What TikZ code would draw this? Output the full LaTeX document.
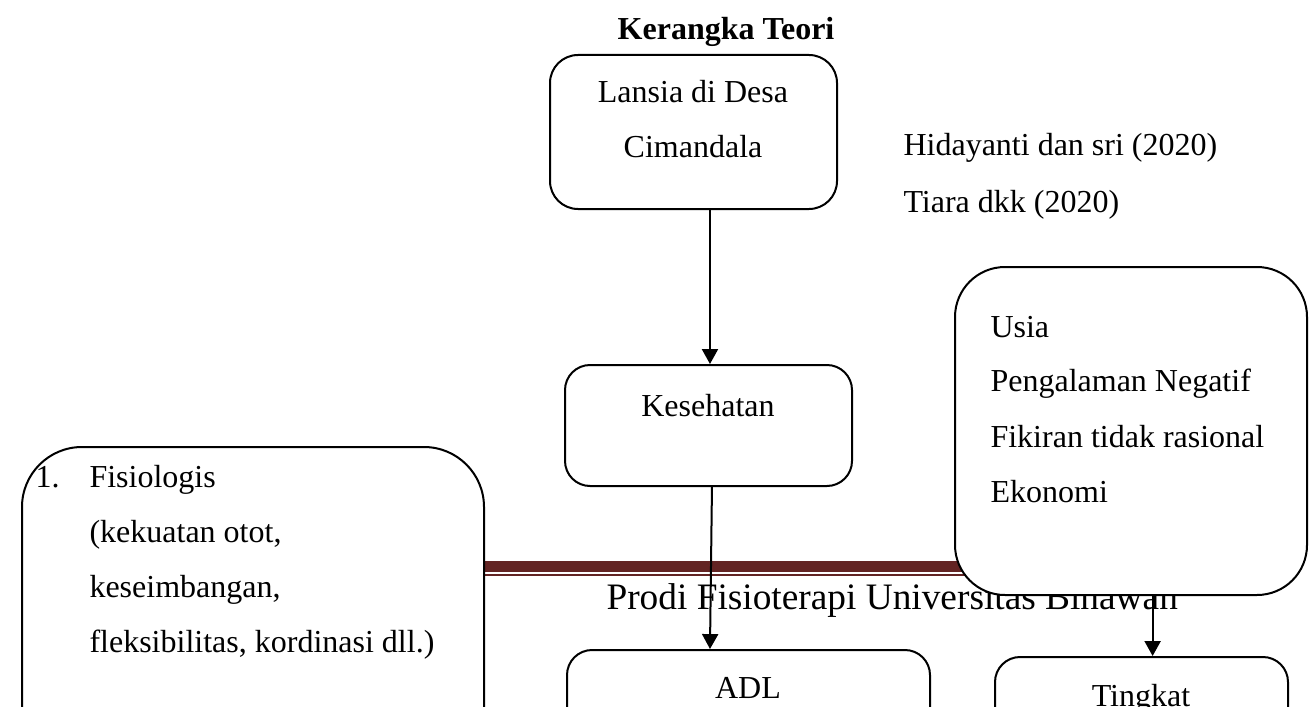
\documentclass[tikz,border=0pt]{standalone}
\usepackage{fontspec}
\setmainfont{Liberation Serif}
\usetikzlibrary{arrows.meta}
\definecolor{hdrred}{HTML}{632423}
\begin{document}
\begin{tikzpicture}[x=0.375pt,y=-0.375pt,
  box/.style={draw,line width=0.75pt,fill=white,rounded corners=#1,inner sep=0pt},
  txt/.style={font=\fontsize{12}{14}\selectfont,inner sep=0pt},
  hdr/.style={font=\fontsize{14}{16}\selectfont,inner sep=0pt},
  arr/.style={line width=0.75pt,-{Triangle[length=5.6pt,width=6pt]}}]
\useasboundingbox (0,0) rectangle (1315,706);
\clip (0,0) rectangle (1315,706);
% page header
\draw[hdrred,line width=4.1pt] (400,566.5) -- (1200,566.5);
\draw[hdrred,line width=0.75pt] (400,575) -- (1200,575);
\node[hdr,anchor=base west] (prodi) at (606,609) {Prodi Fisioterapi Universitas Binawan};
% title
\node[txt,anchor=base,font=\fontsize{12}{14}\selectfont\bfseries] (title) at (726,40) {Kerangka Teori};
% boxes
\node[box=10.5pt,minimum width={287*0.375pt},minimum height={154*0.375pt}] (lansia) at (693.5,132) {};
\node[box=9.4pt,minimum width={287*0.375pt},minimum height={121*0.375pt}] (kes) at (708.5,425.5) {};
\node[box=18.75pt,minimum width={352*0.375pt},minimum height={328*0.375pt}] (faktor) at (1131,431) {};
\node[box=22.5pt,minimum width={462*0.375pt},minimum height={453*0.375pt}] (fisio) at (253,673.5) {};
\node[box=9.4pt,minimum width={363*0.375pt},minimum height={200*0.375pt}] (adl) at (748.5,750) {};
\node[box=9.4pt,minimum width={293*0.375pt},minimum height={200*0.375pt}] (tingkat) at (1141.5,757) {};
% texts
\node[txt,anchor=base] (t1) at (693,103) {Lansia di Desa};
\node[txt,anchor=base] (t2) at (693,158) {Cimandala};
\node[txt,anchor=base west] (r1) at (903,155) {Hidayanti dan sri (2020)};
\node[txt,anchor=base west] (r2) at (903,212) {Tiara dkk (2020)};
\node[txt,anchor=base] (t3) at (708,416) {Kesehatan};
\node[txt,anchor=base west] (f1) at (990,337) {Usia};
\node[txt,anchor=base west] (f2) at (990,391) {Pengalaman Negatif};
\node[txt,anchor=base west] (f3) at (990,447) {Fikiran tidak rasional};
\node[txt,anchor=base west] (f4) at (990,502) {Ekonomi};
\node[txt,anchor=base west] (l0) at (35,487) {1.};
\node[txt,anchor=base west] (l1) at (89,487) {Fisiologis};
\node[txt,anchor=base west] (l2) at (89,542) {(kekuatan otot,};
\node[txt,anchor=base west] (l3) at (89,597) {keseimbangan,};
\node[txt,anchor=base west] (l4) at (89,652) {fleksibilitas, kordinasi dll.)};
\node[txt,anchor=base] (t4) at (748,698) {ADL};
\node[txt,anchor=base] (t5) at (1141,706) {Tingkat};
% arrows
\draw[arr] ([xshift=0.55pt]lansia.south -| kes.north) -- ([xshift=0.55pt]kes.north);
\draw[arr] ([xshift=1.3pt]kes.south) -- ([xshift=0.55pt]adl.north -| kes.south);
\draw[arr] ([xshift=8.1pt]faktor.south) -- ([xshift=8.1pt]faktor.south |- tingkat.north);
\end{tikzpicture}
\end{document}
